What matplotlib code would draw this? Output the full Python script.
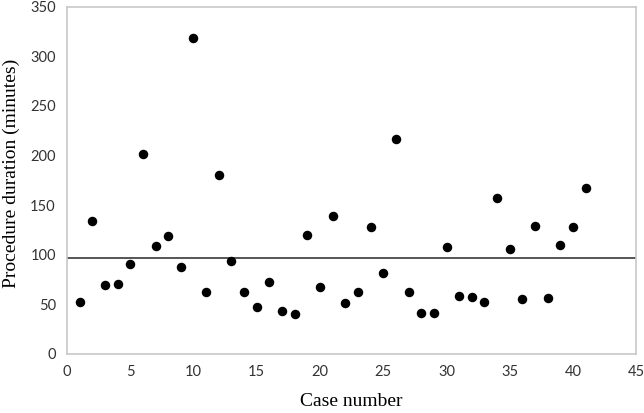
import matplotlib
matplotlib.use("Agg")
import matplotlib.pyplot as plt

# case number vs procedure duration (minutes)
cases = list(range(1, 42))
durations = [52, 134, 69, 70, 91, 201, 109, 119, 88, 318,
             62, 180, 94, 62, 47, 72, 43, 40, 120, 67,
             139, 51, 62, 128, 82, 217, 62, 41, 41, 108,
             58, 57, 52, 157, 106, 55, 129, 56, 110, 128,
             167]
mean_line = 97

x_ticks = [0, 5, 10, 15, 20, 25, 30, 35, 40, 45]
y_ticks = [0, 50, 100, 150, 200, 250, 300, 350]


def main():
	fig = plt.figure(figsize=(6.44, 4.13), dpi=100)
	ax = fig.add_axes([0.104, 0.143, 0.884, 0.841])

	ax.scatter(cases, durations, s=34, color='black', zorder=3)
	ax.axhline(mean_line, color='#555555', linewidth=1.4, zorder=2)

	ax.set_xlim(0, 45)
	ax.set_ylim(0, 350)
	ax.set_xticks(x_ticks)
	ax.set_yticks(y_ticks)
	ax.tick_params(length=0, labelsize=10.5, colors='#333333', pad=8)
	for lab in ax.get_xticklabels() + ax.get_yticklabels():
		lab.set_family('Lato')

	for sp in ax.spines.values():
		sp.set_color('#c8c8c8')
		sp.set_linewidth(1.2)

	ax.set_xlabel('Case number', family='Liberation Serif', fontsize=14, labelpad=10)
	ax.set_ylabel('Procedure duration (minutes)', family='Liberation Serif', fontsize=14)
	ax.yaxis.set_label_coords(-0.082, 0.52)

	fig.savefig('out.png', dpi=100)


if __name__ == "__main__":
	main()
